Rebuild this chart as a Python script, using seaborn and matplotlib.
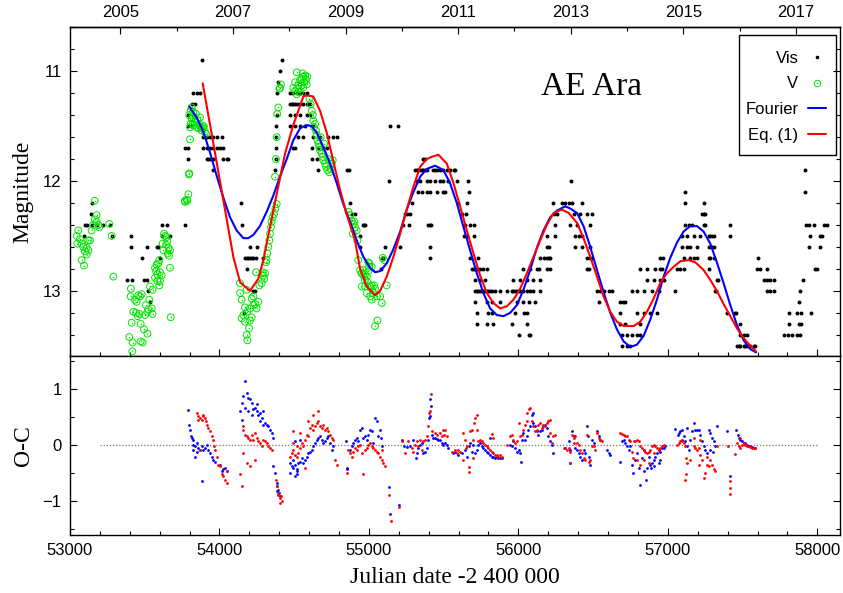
import numpy as np
import matplotlib
matplotlib.use('Agg')
import matplotlib.pyplot as plt
import seaborn as sns
from matplotlib.lines import Line2D
from matplotlib.patches import Rectangle
from matplotlib.ticker import MultipleLocator, FixedLocator, FormatStrFormatter

# visual estimates (JD - 2400000, mag)
vis = np.array([
    (53145, 12.2), (53138, 12.3), (53100, 12.4), (53112, 12.4), (53145, 12.4), (53178, 12.4), (53223, 12.4),
    (53268, 12.4), (53094, 12.5), (53279, 12.5), (53384, 12.9), (53406, 12.5), (53406, 12.6), (53413, 12.9),
    (53480, 12.7), (53495, 12.9), (53513, 12.6), (53513, 12.9), (53524, 13.0), (53535, 13.1), (53580, 12.6),
    (53591, 12.6), (53602, 12.7), (53613, 12.4), (53613, 12.5), (53647, 12.4), (53669, 12.5), (53770, 12.4),
    (53881, 10.9), (53825, 11.2), (53848, 11.2), (53870, 11.2), (53814, 11.3), (53837, 11.3), (53792, 11.4),
    (53825, 11.4), (53792, 11.5), (53808, 11.5), (53870, 11.5), (53892, 11.6), (53915, 11.6), (53937, 11.6),
    (53959, 11.6), (53982, 11.6), (54015, 11.6), (53770, 11.7), (53792, 11.7), (53892, 11.7), (53915, 11.7),
    (53937, 11.7), (53959, 11.7), (53982, 11.7), (54004, 11.7), (54026, 11.7), (53792, 11.8), (53915, 11.8),
    (53926, 11.8), (53937, 11.8), (53959, 11.8), (54026, 11.8), (54048, 11.8), (54060, 11.8), (53959, 11.9),
    (54142, 12.2), (54149, 12.4), (54171, 12.7), (54182, 12.7), (54193, 12.7), (54205, 12.7), (54216, 12.7),
    (54227, 12.7), (54245, 12.7), (54294, 12.7), (54205, 12.6), (54250, 12.6), (54182, 12.8), (54223, 13.0),
    (54238, 13.0), (54164, 13.2),
    (54417, 10.9), (54406, 11.0), (54394, 11.1), (54388, 11.2), (54383, 11.4), (54379, 11.5), (54379, 11.6),
    (54376, 11.7), (54378, 11.8), (54372, 11.9), (54472, 11.2), (54495, 11.2), (54517, 11.2), (54539, 11.2),
    (54562, 11.2), (54584, 11.2), (54472, 11.3), (54484, 11.3), (54495, 11.3), (54506, 11.3), (54517, 11.3),
    (54539, 11.3), (54562, 11.3), (54584, 11.3), (54606, 11.3), (54472, 11.4), (54506, 11.4), (54539, 11.4),
    (54584, 11.4), (54606, 11.4), (54472, 11.5), (54506, 11.5), (54539, 11.5), (54573, 11.5), (54628, 11.5),
    (54528, 11.6), (54562, 11.6), (54628, 11.6), (54673, 11.6), (54729, 11.6), (54762, 11.6), (54785, 11.6),
    (54494, 11.7), (54506, 11.7), (54617, 11.7), (54662, 11.7), (54695, 11.7), (54718, 11.7), (54617, 11.8),
    (54651, 11.8), (54662, 11.9), (54852, 11.9), (54870, 11.9), (54874, 12.2), (54885, 12.3), (54907, 12.3),
    (54963, 12.4), (54974, 12.4), (54968, 12.4), (54941, 12.5), (54941, 12.6), (55108, 12.6), (55086, 12.7),
    (55097, 12.7), (55079, 12.8), (55142, 11.5), (55197, 11.5), (55137, 12.0), (55209, 12.6),
    (55231, 12.4), (55242, 12.3), (55253, 12.3), (55265, 12.4), (55276, 12.3), (55287, 12.2), (55309, 11.9),
    (55320, 11.9), (55331, 11.9), (55343, 11.9), (55354, 11.9), (55365, 11.9), (55376, 11.9), (55387, 11.9),
    (55365, 11.8), (55376, 11.8), (55320, 12.0), (55343, 12.0), (55387, 12.0), (55410, 12.0), (55331, 12.1),
    (55354, 12.1), (55387, 12.1), (55410, 12.1), (55398, 12.4), (55410, 12.4), (55414, 12.4), (55410, 12.6),
    (55410, 12.7), (55432, 11.9), (55443, 11.9), (55454, 11.9), (55476, 11.9), (55499, 11.9), (55521, 11.9),
    (55543, 11.9), (55566, 11.9), (55577, 11.9), (55443, 12.0), (55476, 12.0), (55499, 12.0), (55532, 12.0),
    (55588, 12.0), (55454, 12.1), (55499, 12.1), (55510, 12.1), (55599, 12.2), (55655, 12.2), (55666, 12.0),
    (55673, 12.1), (55621, 12.3), (55650, 12.3), (55644, 12.4), (55677, 12.4), (55700, 12.4), (55633, 12.5),
    (55655, 12.5), (55700, 12.5), (55677, 12.7), (55733, 12.7),
    (55688, 12.8), (55700, 12.8), (55711, 12.8), (55722, 12.8), (55733, 12.8), (55744, 12.8), (55766, 12.8),
    (55789, 12.8), (55711, 12.9), (55744, 12.9), (55778, 12.9), (55711, 13.0), (55722, 13.0), (55733, 13.0),
    (55744, 13.0), (55755, 13.0), (55766, 13.0), (55778, 13.0), (55789, 13.0), (55800, 13.0), (55811, 13.0),
    (55822, 13.0), (55845, 13.0), (55878, 13.0), (55923, 13.0), (55711, 13.1), (55789, 13.1), (55822, 13.1),
    (55878, 13.1), (55722, 13.2), (55800, 13.2), (55822, 13.2), (55722, 13.3), (55789, 13.3), (55829, 13.3),
    (55956, 13.0), (55967, 13.0), (55978, 13.0), (55990, 13.0), (56001, 13.0), (56012, 13.0), (56034, 13.0),
    (56057, 13.0), (56079, 13.0), (56101, 13.0), (56146, 13.0), (55967, 12.9), (56012, 12.9), (56057, 12.9),
    (56101, 12.9), (56146, 12.9), (56030, 12.8), (56079, 12.8), (56124, 12.8), (56135, 12.8), (56190, 12.8),
    (56213, 12.8), (55990, 13.1), (56034, 13.1), (56068, 13.1), (56112, 13.1), (55978, 13.2), (56035, 13.2),
    (56057, 13.2), (55956, 13.3), (56057, 13.3), (56001, 13.4), (56068, 13.4), (56079, 13.4), (56146, 12.7),
    (56169, 12.7), (56191, 12.7), (56202, 12.7), (56213, 12.7), (56190, 12.6), (56208, 12.6),
    (56231, 12.2), (56291, 12.2), (56314, 12.2), (56336, 12.2), (56358, 12.2), (56425, 12.2), (56236, 12.3),
    (56258, 12.3), (56369, 12.3), (56414, 12.3), (56459, 12.3), (56492, 12.3), (56247, 12.4), (56347, 12.4),
    (56392, 12.4), (56481, 12.4), (56191, 12.5), (56247, 12.5), (56381, 12.5), (56403, 12.5), (56425, 12.5),
    (56381, 12.6), (56425, 12.6), (56481, 12.6), (56459, 12.7), (56481, 12.7), (56492, 12.7), (56459, 12.8),
    (56470, 12.8), (56354, 12.0), (56526, 13.0), (56548, 13.0), (56570, 13.0), (56604, 13.0), (56626, 13.0),
    (56537, 13.1), (56682, 13.1), (56700, 13.1), (56715, 13.1),
    (56760, 13.0), (56793, 13.0), (56838, 13.0), (56894, 13.0), (56938, 13.0), (56682, 13.2), (56793, 13.2),
    (56838, 13.2), (56883, 13.2), (56927, 13.2), (56682, 13.3), (56715, 13.3), (56816, 13.3), (56693, 13.4),
    (56726, 13.4), (56760, 13.4), (56793, 13.4), (56816, 13.4), (56693, 13.5), (56726, 13.5), (56749, 13.5),
    (56816, 12.8), (56860, 12.8), (56916, 12.8), (56949, 12.8), (56961, 12.8), (56860, 12.9), (56905, 12.9),
    (56949, 12.9), (56972, 12.9), (56949, 12.7), (56967, 12.7), (57045, 13.0),
    (57117, 12.1), (57117, 12.2), (57239, 12.2), (57228, 12.3), (57239, 12.3), (57250, 12.3), (57117, 12.4),
    (57139, 12.4), (57161, 12.4), (57239, 12.4), (57250, 12.4), (57418, 12.4), (57094, 12.5), (57128, 12.5),
    (57172, 12.5), (57217, 12.5), (57273, 12.5), (57284, 12.5), (57295, 12.5), (57306, 12.5), (57418, 12.5),
    (57094, 12.6), (57128, 12.6), (57150, 12.6), (57195, 12.6), (57273, 12.6), (57295, 12.6), (57306, 12.6),
    (57105, 12.7), (57150, 12.7), (57172, 12.7), (57195, 12.7), (57273, 12.7), (57284, 12.7), (57306, 12.7),
    (57061, 12.8), (57083, 12.8), (57105, 12.8), (57273, 12.8), (57328, 12.9), (57333, 12.9), (57317, 13.0),
    (57324, 13.0), (57395, 13.2), (57451, 13.2), (57458, 13.2), (57485, 13.3), (57485, 13.4), (57507, 13.4),
    (57529, 13.4), (57462, 13.5), (57474, 13.5), (57485, 13.5), (57507, 13.5), (57518, 13.5), (57529, 13.5),
    (57552, 13.5), (57574, 13.5), (57585, 13.5),
    (57601, 12.7), (57596, 12.8), (57619, 12.8), (57663, 12.8), (57641, 12.9), (57663, 12.9), (57686, 12.9),
    (57708, 12.9), (57663, 13.0), (57686, 13.0), (57708, 13.0), (57808, 13.2), (57864, 13.2), (57891, 13.2),
    (57808, 13.3), (57875, 13.3), (57891, 13.3), (57775, 13.4), (57802, 13.4), (57831, 13.4), (57864, 13.4),
    (57886, 13.4), (57875, 13.1), (57882, 13.0), (57904, 12.9), (57960, 13.2), (57987, 12.8), (57998, 12.8),
    (57942, 12.6), (58020, 12.6), (57953, 12.5), (58020, 12.5), (58031, 12.5), (57926, 12.4), (57942, 12.4),
    (57976, 12.4), (58043, 12.4), (58065, 12.4), (57915, 12.1), (57915, 11.9),
])

# V-band photometry (JD - 2400000, mag)
v_band = np.array([
    (53056, 12.45), (53045, 12.50), (53067, 12.53), (53049, 12.57), (53078, 12.57), (53089, 12.60),
    (53112, 12.61), (53100, 12.64), (53123, 12.63), (53112, 12.67), (53078, 12.72), (53094, 12.77),
    (53123, 12.54), (53134, 12.54), (53145, 12.45), (53156, 12.40), (53167, 12.35), (53178, 12.37),
    (53190, 12.40), (53178, 12.31), (53165, 12.18), (53196, 12.42), (53263, 12.39), (53279, 12.50),
    (53290, 12.87),
    (53408, 12.98), (53406, 13.05), (53457, 13.04), (53446, 13.10), (53435, 13.08), (53469, 13.05),
    (53480, 13.03), (53424, 13.19), (53442, 13.20), (53464, 13.21), (53453, 13.23), (53473, 13.30),
    (53413, 13.29), (53397, 13.42), (53419, 13.47), (53417, 13.55), (53495, 13.35), (53473, 13.46),
    (53486, 13.47), (53518, 13.39), (53531, 13.08), (53535, 12.96), (53553, 12.99), (53509, 13.13),
    (53524, 13.17), (53547, 13.16), (53553, 13.21), (53502, 13.22), (53518, 13.19), (53569, 12.79),
    (53580, 12.76), (53591, 12.75), (53598, 12.72), (53576, 12.82), (53585, 12.85), (53602, 12.83),
    (53569, 12.88), (53585, 12.91), (53602, 12.91), (53614, 12.86), (53598, 12.95), (53625, 12.63),
    (53620, 12.57), (53636, 12.50), (53629, 12.48), (53647, 12.51), (53651, 12.55), (53643, 12.58),
    (53660, 12.61), (53669, 12.63), (53654, 12.66), (53663, 12.68), (53669, 12.79), (53674, 13.24),
    (53770, 12.19), (53781, 12.17), (53792, 12.12), (53796, 11.94),
    (53769, 12.18), (53785, 12.18), (53798, 11.93), (53803, 11.62), (53807, 11.48), (53798, 11.40),
    (53807, 11.36), (53814, 11.43), (53825, 11.42), (53821, 11.48), (53830, 11.49), (53836, 11.46),
    (53847, 11.51), (53859, 11.52), (53865, 11.48), (53870, 11.42), (53874, 11.51), (53881, 11.54),
    (53888, 11.52), (53892, 11.51), (53843, 11.39), (53814, 11.33), (53825, 11.37), (53852, 11.45),
    (53803, 11.51), (53903, 11.55), (53910, 11.57), (53896, 11.50),
    (54187, 13.45), (54182, 13.40), (54198, 13.34), (54171, 13.28), (54149, 13.25), (54160, 13.22),
    (54204, 13.27), (54216, 13.24), (54187, 13.19), (54171, 13.15), (54149, 13.08), (54138, 13.02),
    (54138, 12.93), (54182, 12.99), (54204, 13.16), (54227, 13.13), (54238, 13.12), (54216, 13.07),
    (54227, 13.05), (54249, 13.16), (54260, 13.10), (54283, 12.93), (54294, 12.86), (54305, 12.84),
    (54300, 12.89), (54289, 12.83), (54245, 12.83), (54267, 12.95), (54312, 12.74), (54316, 12.72),
    (54320, 12.66), (54327, 12.60), (54334, 12.54), (54338, 12.48), (54345, 12.42), (54349, 12.37),
    (54356, 12.33), (54365, 12.30), (54374, 12.25), (54383, 12.21), (54372, 11.96), (54378, 11.80),
    (54383, 11.60), (54387, 11.39), (54394, 11.33), (54401, 11.16), (54412, 11.12), (54405, 11.15),
    (54517, 11.01), (54506, 11.10), (54528, 11.13), (54539, 11.08), (54550, 11.07), (54561, 11.05),
    (54573, 11.04), (54579, 11.08), (54584, 11.12), (54561, 11.15), (54539, 11.19), (54517, 11.21),
    (54528, 11.16), (54506, 11.18), (54494, 11.15), (54550, 11.13), (54566, 11.10), (54557, 11.02),
    (54588, 11.05), (54602, 11.25), (54610, 11.30), (54617, 11.36), (54624, 11.40), (54628, 11.45),
    (54640, 11.48), (54633, 11.51), (54646, 11.54), (54651, 11.58), (54655, 11.63), (54662, 11.66),
    (54668, 11.69), (54673, 11.72), (54684, 11.75), (54691, 11.78), (54695, 11.81), (54706, 11.84),
    (54713, 11.87), (54722, 11.90), (54735, 11.92), (54744, 11.89), (54751, 11.84), (54758, 11.81),
    (54729, 11.80), (54700, 11.66), (54677, 11.60),
    (54863, 12.28), (54874, 12.31), (54885, 12.36), (54896, 12.39), (54907, 12.42), (54918, 12.45),
    (54892, 12.48), (54903, 12.37), (54923, 12.54), (54929, 12.72), (54941, 12.81), (54952, 12.84),
    (54963, 12.86), (54974, 12.96), (54985, 13.02), (54996, 12.74), (55003, 12.78),
    (54952, 12.84), (54963, 12.81), (54974, 12.85), (54986, 12.87), (54990, 12.92), (55003, 12.75),
    (55019, 12.78), (55008, 12.96), (55019, 12.95), (55035, 12.95), (55041, 12.98), (55030, 13.02),
    (55008, 13.05), (55019, 13.08), (55053, 13.05), (55075, 13.05), (55086, 13.11), (55119, 12.95),
    (55093, 12.70), (55102, 12.72), (55057, 13.27), (55041, 13.32), (54952, 12.96), (54974, 12.90),
    (54997, 12.82),
])

# Fourier fit (JD - 2400000, mag)
fourier = np.array([
    (53798, 11.32), (53847, 11.42), (53892, 11.55), (53937, 11.74), (53981, 11.95), (54026, 12.15),
    (54071, 12.33), (54115, 12.45), (54160, 12.52), (54193, 12.52), (54227, 12.49), (54271, 12.41),
    (54316, 12.28), (54361, 12.13), (54405, 11.96), (54450, 11.80), (54494, 11.63), (54539, 11.52),
    (54584, 11.49), (54617, 11.50), (54651, 11.56), (54695, 11.69), (54740, 11.84), (54785, 12.02),
    (54829, 12.21), (54874, 12.37), (54918, 12.54), (54963, 12.69), (55008, 12.79), (55041, 12.83),
    (55075, 12.82), (55119, 12.75), (55164, 12.62), (55209, 12.46), (55253, 12.26), (55298, 12.10),
    (55343, 11.96), (55387, 11.89), (55443, 11.86), (55499, 11.90), (55543, 12.02), (55588, 12.20),
    (55633, 12.42), (55677, 12.63), (55722, 12.84), (55766, 13.02), (55811, 13.16), (55856, 13.22),
    (55900, 13.23), (55945, 13.20), (55990, 13.13), (56034, 12.99), (56079, 12.81), (56123, 12.61),
    (56168, 12.45), (56213, 12.33), (56257, 12.27), (56314, 12.23), (56347, 12.25), (56392, 12.29),
    (56436, 12.41), (56481, 12.60), (56526, 12.81), (56570, 13.01), (56615, 13.20), (56659, 13.35),
    (56704, 13.46), (56749, 13.51), (56793, 13.49), (56838, 13.41), (56883, 13.26), (56927, 13.08),
    (56972, 12.87), (57016, 12.70), (57061, 12.56), (57105, 12.46), (57150, 12.41), (57195, 12.41),
    (57239, 12.46), (57284, 12.57), (57328, 12.74), (57373, 12.93), (57418, 13.13), (57462, 13.31),
    (57507, 13.45), (57552, 13.53), (57590, 13.56),
])

# Eq. (1) model (JD - 2400000, mag)
eq1 = np.array([
    (53888, 11.11), (54093, 12.69), (54138, 12.92), (54204, 13.00), (54260, 12.89), (54294, 12.72),
    (54338, 12.42), (54383, 12.12), (54439, 11.75), (54494, 11.49), (54528, 11.36), (54561, 11.23),
    (54584, 11.22), (54628, 11.23), (54673, 11.36), (54718, 11.56), (54762, 11.82), (54807, 12.08),
    (54851, 12.30), (54907, 12.54), (54941, 12.80), (54986, 12.96), (55041, 13.04), (55075, 13.00),
    (55119, 12.87), (55164, 12.69), (55209, 12.48), (55253, 12.26), (55298, 12.05), (55343, 11.87),
    (55387, 11.80), (55420, 11.78), (55465, 11.76), (55499, 11.81), (55521, 11.84), (55566, 12.02),
    (55610, 12.23), (55655, 12.45), (55700, 12.66), (55744, 12.86), (55789, 13.02), (55833, 13.11),
    (55878, 13.16), (55923, 13.14), (55967, 13.08), (56012, 12.98), (56057, 12.84), (56101, 12.69),
    (56146, 12.54), (56190, 12.40), (56236, 12.29), (56291, 12.26), (56336, 12.29), (56392, 12.38),
    (56436, 12.52), (56481, 12.69), (56526, 12.87), (56570, 13.05), (56615, 13.19), (56659, 13.28),
    (56704, 13.32), (56771, 13.32), (56816, 13.28), (56860, 13.19), (56905, 13.07), (56949, 12.93),
    (56994, 12.84), (57039, 12.78), (57084, 12.73), (57139, 12.72), (57184, 12.74), (57239, 12.81),
    (57284, 12.90), (57328, 13.00), (57373, 13.12), (57418, 13.23), (57462, 13.34), (57507, 13.43),
    (57552, 13.50), (57590, 13.55),
])

# O-C residuals of the Fourier fit (JD - 2400000, mag)
oc_fourier = np.array([
    (53792, 0.63), (53799, 0.37), (53803, 0.28), (53808, 0.16), (53814, 0.13), (53825, 0.10), (53821, 0.01),
    (53837, -0.02), (53848, 0.04), (53859, -0.05), (53870, -0.08), (53881, -0.02), (53892, -0.08),
    (53903, -0.05), (53915, 0.01), (53926, -0.08), (53937, -0.14), (53948, -0.20), (53959, -0.26),
    (53970, -0.29), (53881, -0.64), (53837, -0.20), (53848, -0.11), (53821, -0.08), (54004, -0.35),
    (54015, -0.46), (54026, -0.43), (54037, -0.40), (54048, -0.46),
    (54138, 0.61), (54149, 0.76), (54156, 0.88), (54171, 1.14), (54182, 0.94), (54193, 0.85), (54205, 0.82),
    (54216, 0.76), (54227, 0.64), (54238, 0.67), (54249, 0.61), (54260, 0.55), (54272, 0.58), (54283, 0.49),
    (54294, 0.61), (54305, 0.40), (54316, 0.37), (54327, 0.34), (54339, 0.28), (54350, 0.22), (54361, 0.13),
    (54149, 0.46), (54171, 0.67), (54193, 0.61), (54216, 0.55), (54272, 0.43), (54294, 0.37), (54249, 0.73),
    (54361, -0.37), (54372, -0.49), (54383, -0.67), (54388, -0.73), (54394, -0.79), (54401, -0.85),
    (54405, -0.91), (54383, -0.82),
    (54472, -0.49), (54484, -0.37), (54495, -0.26), (54506, -0.35), (54517, -0.43), (54522, -0.52),
    (54528, -0.32), (54539, -0.29), (54550, -0.23), (54562, -0.32), (54573, -0.26), (54584, -0.20),
    (54595, -0.14), (54606, -0.11), (54617, -0.08), (54629, -0.02), (54640, 0.04), (54651, 0.10),
    (54662, 0.13), (54673, 0.16), (54684, 0.10), (54695, 0.04), (54707, 0.07), (54718, 0.13), (54729, 0.16),
    (54740, 0.04), (54751, -0.08), (54762, -0.02), (54472, -0.32), (54495, -0.40), (54517, -0.46),
    (54506, -0.55), (54506, 0.07), (54539, 0.10),
    (54847, 0.07), (54852, -0.40), (54856, -0.43), (54874, -0.08), (54885, -0.02), (54896, 0.04),
    (54907, 0.10), (54919, 0.13), (54930, 0.07), (54941, 0.28), (54952, 0.31), (54963, 0.13), (54974, 0.16),
    (54986, 0.10), (54997, 0.19), (55008, 0.28), (55019, 0.25), (55030, 0.04), (55041, 0.49), (55053, 0.43),
    (55064, 0.16), (55075, 0.28), (55079, 0.13), (55086, -0.02), (55137, -0.74), (55142, -1.22),
    (55204, -1.06),
    (55220, 0.10), (55235, -0.02), (55253, -0.03), (55275, -0.01), (55298, 0.10), (55316, -0.23),
    (55325, -0.14), (55331, -0.05), (55342, 0.01), (55354, 0.04), (55365, -0.14), (55376, -0.11),
    (55387, -0.05), (55398, 0.10), (55405, 0.49), (55409, 0.52), (55414, 0.70), (55409, 0.82), (55420, 0.19),
    (55432, 0.13), (55443, 0.13), (55454, 0.11), (55465, 0.10), (55476, 0.10), (55487, 0.04), (55499, 0.01),
    (55510, 0.04), (55521, 0.01), (55532, -0.05),
    (55565, -0.14), (55577, -0.11), (55599, -0.17), (55621, -0.14), (55644, -0.08), (55655, -0.20),
    (55673, -0.02), (55677, 0.04), (55688, -0.11), (55699, 0.01), (55710, -0.14), (55722, -0.08),
    (55733, 0.01), (55744, 0.04), (55755, -0.02), (55766, -0.05), (55777, -0.08), (55789, -0.11),
    (55800, -0.14), (55811, -0.17), (55822, -0.20), (55833, -0.20), (55844, -0.23), (55856, -0.20),
    (55867, -0.23), (55878, -0.23), (55889, -0.23), (55811, 0.13),
    (55945, 0.01), (55956, -0.02), (55967, 0.07), (55978, -0.05), (55989, -0.11), (56001, -0.08),
    (56012, -0.14), (56016, -0.29), (56023, 0.10), (56034, 0.22), (56045, 0.10), (56056, 0.16), (56067, 0.28),
    (56079, 0.34), (56090, 0.55), (56097, 0.58), (56101, 0.40), (56112, 0.34), (56123, 0.25), (56134, 0.19),
    (56146, 0.25), (56157, 0.28), (56168, 0.34), (56179, 0.37), (56190, 0.31), (56201, 0.16), (56212, 0.07),
    (56224, 0.01), (56235, -0.14),
    (56314, -0.05), (56336, 0.07), (56347, -0.08), (56358, 0.25), (56369, 0.16), (56381, -0.05),
    (56392, -0.08), (56403, -0.14), (56414, -0.20), (56425, -0.26), (56436, -0.08), (56448, -0.14),
    (56459, 0.34), (56463, 0.16), (56470, -0.20), (56481, -0.35), (56492, 0.10), (56503, 0.04), (56526, 0.25),
    (56537, 0.16), (56548, 0.10), (56593, -0.08), (56604, -0.14), (56615, -0.17), (56347, -0.32),
    (56682, -0.29), (56693, 0.07), (56704, 0.10), (56715, 0.04), (56726, -0.02), (56738, -0.08),
    (56749, -0.02), (56760, -0.35), (56767, -0.49), (56782, -0.26), (56793, -0.14), (56804, -0.40),
    (56811, -0.70), (56827, -0.23), (56838, -0.46), (56842, -0.08), (56856, -0.61), (56860, -0.40),
    (56871, -0.20), (56883, -0.35), (56894, -0.32), (56905, -0.26), (56916, -0.20), (56927, -0.14),
    (56938, -0.08), (56949, -0.11), (56961, -0.05), (56972, -0.05), (56983, -0.02), (56887, -0.40),
    (56909, -0.37), (56938, -0.32), (56949, -0.26),
    (57050, 0.29), (57065, 0.19), (57072, 0.22), (57083, 0.25), (57094, 0.28), (57106, 0.16), (57117, 0.07),
    (57128, -0.02), (57139, -0.08), (57150, 0.10), (57161, 0.25), (57173, 0.39), (57184, 0.28), (57195, 0.28),
    (57206, 0.28), (57217, 0.19), (57228, 0.07), (57239, -0.02), (57251, -0.08), (57262, -0.14),
    (57273, 0.28), (57284, 0.22), (57295, 0.13), (57306, 0.07), (57318, -0.02), (57329, 0.34),
    (57280, -0.08), (57302, -0.11), (57128, 0.31), (57094, 0.10),
    (57396, 0.25), (57418, -0.54), (57458, 0.28), (57467, 0.19), (57474, 0.13), (57485, 0.10), (57496, 0.07),
    (57507, 0.05), (57518, 0.04), (57530, 0.01), (57541, -0.01), (57552, -0.02), (57563, -0.03),
    (57574, -0.04), (57585, -0.05),
])

# O-C residuals of Eq. (1) (JD - 2400000, mag)
oc_eq1 = np.array([
    (53848, 0.58), (53859, 0.52), (53870, 0.49), (53881, 0.46), (53892, 0.52), (53903, 0.49), (53910, 0.43),
    (53915, 0.37), (53926, 0.31), (53937, 0.25), (53948, 0.16), (53959, 0.10), (53964, -0.02), (53970, -0.08),
    (53982, -0.20), (53993, -0.35), (54004, -0.37), (54015, -0.52), (54026, -0.55), (54037, -0.61),
    (54048, -0.67), (54053, -0.46), (53870, -0.08), (53859, 0.46), (53892, 0.55),
    (54138, -0.52), (54149, -0.73), (54156, 0.34), (54160, 0.28), (54171, 0.19), (54182, 0.16), (54193, 0.13),
    (54205, 0.10), (54216, 0.19), (54227, 0.10), (54238, 0.22), (54249, 0.13), (54260, 0.07), (54272, 0.04),
    (54283, -0.02), (54294, 0.10), (54305, 0.07), (54316, 0.04), (54327, -0.02), (54339, -0.05),
    (54350, -0.08), (54182, -0.32), (54205, -0.37), (54238, -0.26), (54160, -0.14),
    (54379, -0.61), (54388, -0.73), (54394, -0.85), (54405, -0.94), (54417, -1.00), (54410, -0.91),
    (54405, -1.03), (54394, -0.88),
    (54472, -0.20), (54484, -0.14), (54495, -0.08), (54506, -0.17), (54517, -0.02), (54528, -0.14),
    (54539, -0.05), (54550, 0.04), (54562, -0.02), (54573, 0.10), (54584, 0.19), (54595, 0.16), (54606, 0.31),
    (54617, 0.37), (54629, 0.28), (54640, 0.34), (54651, 0.40), (54662, 0.43), (54673, 0.34), (54684, 0.31),
    (54695, 0.37), (54707, 0.28), (54718, 0.31), (54729, 0.25), (54740, 0.19), (54751, 0.13), (54762, 0.10),
    (54662, 0.61), (54629, 0.55), (54595, 0.43), (54495, 0.25), (54539, 0.22), (54773, -0.26),
    (54785, -0.35), (54573, -0.40), (54495, 0.04), (54517, -0.20),
    (54856, -0.49), (54863, -0.08), (54874, -0.14), (54885, -0.20), (54896, -0.11), (54907, -0.05),
    (54919, -0.08), (54930, -0.02), (54941, 0.01), (54952, -0.14), (54963, -0.52), (54974, -0.08),
    (54986, -0.05), (54997, 0.01), (55008, 0.04), (55019, -0.02), (55030, -0.05), (55041, -0.08),
    (55053, -0.11), (55064, -0.14), (55075, -0.20), (55086, -0.26), (55097, -0.32), (55108, -0.37),
    (55086, -0.08), (55137, -0.88), (55146, -1.35), (55204, -1.10),
    (55220, 0.07), (55242, -0.14), (55264, 0.07), (55287, -0.05), (55298, -0.11), (55309, 0.01), (55320, 0.07),
    (55331, -0.02), (55342, 0.10), (55354, -0.08), (55365, 0.07), (55376, 0.10), (55387, 0.16), (55398, 0.34),
    (55405, 0.58), (55409, 0.61), (55414, 0.91), (55420, 0.25), (55443, 0.22), (55454, 0.19), (55476, 0.22),
    (55487, 0.16), (55499, 0.28), (55503, 0.19), (55510, 0.27), (55521, 0.16),
    (55554, -0.11), (55577, -0.08), (55588, -0.14), (55599, -0.08), (55610, -0.11), (55628, 0.22),
    (55644, 0.10), (55650, -0.05), (55659, -0.02), (55668, -0.38), (55673, -0.48), (55677, 0.25),
    (55688, 0.28), (55699, 0.10), (55704, 0.40), (55710, 0.49), (55722, 0.55), (55726, 0.28), (55733, 0.07),
    (55744, 0.10), (55755, 0.07), (55766, 0.04), (55777, 0.01), (55789, -0.02), (55800, -0.05),
    (55811, -0.08), (55822, -0.11), (55833, -0.14), (55844, -0.17), (55856, -0.18), (55867, -0.20),
    (55878, -0.18), (55889, -0.20), (55822, 0.21), (55829, 0.13), (55632, -0.26), (55699, -0.23),
    (55922, 0.01), (55945, 0.16), (55956, 0.19), (55967, 0.10), (55978, 0.04), (55989, 0.07), (56001, 0.40),
    (56012, 0.16), (56023, 0.19), (56034, 0.28), (56045, 0.37), (56056, 0.43), (56061, 0.58), (56074, 0.64),
    (56079, 0.67), (56090, 0.43), (56101, 0.34), (56112, 0.25), (56123, 0.28), (56134, 0.37), (56146, 0.40),
    (56157, 0.31), (56168, 0.37), (56179, 0.34), (56190, 0.40), (56201, 0.43), (56212, 0.46), (56224, 0.04),
    (56235, 0.16), (56246, 0.19), (56212, 0.22),
    (56302, -0.05), (56325, -0.08), (56336, -0.05), (56347, -0.11), (56358, 0.19), (56369, 0.13),
    (56381, 0.16), (56392, 0.04), (56403, 0.01), (56414, -0.08), (56425, -0.14), (56436, -0.23),
    (56448, -0.26), (56459, 0.19), (56470, -0.29), (56481, -0.26), (56492, -0.02), (56503, -0.02),
    (56514, -0.08), (56526, 0.22), (56537, 0.13), (56548, 0.10), (56559, 0.07), (56347, -0.32), (56369, 0.04),
    (56682, 0.22), (56693, 0.21), (56704, 0.19), (56715, 0.17), (56726, 0.16), (56738, 0.10), (56749, 0.07),
    (56760, -0.12), (56771, 0.07), (56782, 0.07), (56793, 0.10), (56804, 0.07), (56816, -0.02),
    (56827, -0.05), (56838, -0.08), (56849, -0.11), (56860, -0.14), (56871, -0.11), (56883, -0.08),
    (56894, -0.02), (56905, 0.01), (56916, -0.02), (56927, -0.05), (56938, -0.08), (56949, -0.05),
    (56961, -0.02), (56972, 0.01), (56767, -0.23), (56793, -0.26), (56816, -0.35), (56838, -0.26),
    (56871, -0.32), (56905, -0.14),
    (57061, 0.01), (57072, 0.04), (57083, 0.07), (57094, 0.07), (57106, 0.04), (57117, -0.02), (57124, -0.23),
    (57128, -0.32), (57117, -0.61), (57150, -0.26), (57173, -0.02), (57184, -0.05), (57195, -0.08),
    (57206, -0.05), (57217, -0.17), (57228, -0.26), (57239, -0.58), (57251, -0.49), (57262, -0.35),
    (57273, -0.37), (57284, -0.26), (57295, -0.35), (57306, -0.43), (57318, -0.46), (57262, -0.20),
    (57206, -0.35), (57124, -0.52), (57329, -0.02), (57173, 0.13), (57217, 0.10),
    (57400, -0.02), (57418, -0.64), (57418, -0.76), (57418, -0.86), (57451, -0.15), (57463, 0.04),
    (57474, -0.02), (57485, -0.05), (57496, 0.01), (57507, 0.04), (57518, 0.01), (57530, -0.01),
    (57541, -0.02), (57552, -0.03), (57563, -0.04), (57574, -0.04), (57585, -0.05), (57485, 0.13),
])

zero_line_jd = [53200, 58000]
years_major = [2005, 2007, 2009, 2011, 2013, 2015, 2017]
years_minor = [2006, 2008, 2010, 2012, 2014, 2016]
jd_2005 = 53336.7      # where the 2005 tick sits on the JD axis
days_per_year = 376.7  # spacing of the year ticks

GREEN = '#00e600'
SERIF = ['Liberation Serif', 'DejaVu Serif']

sns.set_style('ticks')
plt.rcParams['font.family'] = ['Liberation Sans', 'DejaVu Sans']
plt.rcParams.update({
    'axes.edgecolor': 'black', 'axes.linewidth': 1.0, 'text.color': 'black',
    'axes.labelcolor': 'black', 'xtick.color': 'black', 'ytick.color': 'black',
})

fig = plt.figure(figsize=(8.43, 5.93), dpi=100)
ax1 = fig.add_axes([0.0830, 0.4002, 0.9140, 0.5538])
ax2 = fig.add_axes([0.0830, 0.0978, 0.9140, 0.3024])

# Light curve panel
sns.scatterplot(x=vis[:, 0], y=vis[:, 1], ax=ax1, color='black', s=8, linewidth=0, zorder=2)
sns.scatterplot(x=v_band[:, 0], y=v_band[:, 1], ax=ax1, s=24, facecolor='none', edgecolor=GREEN,
                linewidth=0.7, zorder=3)
sns.scatterplot(x=v_band[:, 0], y=v_band[:, 1], ax=ax1, color=GREEN, s=1.2, linewidth=0, zorder=3)
sns.lineplot(x=fourier[:, 0], y=fourier[:, 1], ax=ax1, color='blue', lw=1.5, zorder=4,
             estimator=None, sort=False)
sns.lineplot(x=eq1[:, 0], y=eq1[:, 1], ax=ax1, color='red', lw=1.5, zorder=5,
             estimator=None, sort=False)

ax1.set_xlim(53000, 58155)
ax1.set_ylim(13.59, 10.60)
ax1.xaxis.set_major_locator(MultipleLocator(1000))
ax1.xaxis.set_minor_locator(MultipleLocator(200))
ax1.yaxis.set_major_locator(FixedLocator([11, 12, 13]))
ax1.yaxis.set_minor_locator(MultipleLocator(0.2))
ax1.tick_params(axis='x', which='both', top=False, bottom=True, labelbottom=False)
ax1.tick_params(axis='y', which='both', left=True, right=True)
ax1.set_xlabel('')
ax1.set_ylabel('Magnitude', fontsize=17, family=SERIF)
ax1.yaxis.set_label_coords(-0.047, 0.5)
ax1.text(0.6775, 0.794, 'AE Ara', transform=ax1.transAxes, ha='center', va='baseline',
         fontsize=24, family=SERIF)


def jd2yr(jd):
    return 2005 + (np.asarray(jd) - jd_2005) / days_per_year


def yr2jd(yr):
    return jd_2005 + (np.asarray(yr) - 2005) * days_per_year


sec = ax1.secondary_xaxis('top', functions=(jd2yr, yr2jd))
sec.xaxis.set_major_locator(FixedLocator(years_major))
sec.xaxis.set_minor_locator(FixedLocator(years_minor))
sec.xaxis.set_major_formatter(FormatStrFormatter('%d'))
sec.tick_params(which='both', direction='in', labelsize=12, width=0.8, pad=5)
sec.tick_params(which='major', length=5)
sec.tick_params(which='minor', length=3.2)

# key: entries without frame, box drawn separately (gnuplot style)
handles = [
    Line2D([], [], ls='none', marker='o', ms=2.6, mew=0, color='black'),
    (Line2D([], [], ls='none', marker='o', ms=4.6, mfc='none', mec=GREEN, mew=0.7),
     Line2D([], [], ls='none', marker='o', ms=1.0, mew=0, color=GREEN)),
    Line2D([], [], color='blue', lw=1.5),
    Line2D([], [], color='red', lw=1.5),
]
ax1.legend(handles, ['Vis', 'V', 'Fourier', 'Eq. (1)'], loc='upper right',
           bbox_to_anchor=(0.9812, 0.9284), borderaxespad=0, markerfirst=False,
           frameon=False, fontsize=12, handlelength=1.1, handletextpad=0.55,
           labelspacing=0.64, borderpad=0)
ax1.add_patch(Rectangle((0.8683, 0.6111), 0.9942 - 0.8683, 0.9766 - 0.6111, transform=ax1.transAxes,
                        fill=False, edgecolor='black', lw=1.0, zorder=6))

# O-C panel
sns.lineplot(x=zero_line_jd, y=[0, 0], ax=ax2, color='#777777', lw=0.9, linestyle=(0, (1, 1.5)),
             zorder=1)
sns.scatterplot(x=oc_fourier[:, 0], y=oc_fourier[:, 1], ax=ax2, color='blue', s=4, linewidth=0, zorder=2)
sns.scatterplot(x=oc_eq1[:, 0], y=oc_eq1[:, 1], ax=ax2, color='red', s=4, linewidth=0, zorder=3)

ax2.set_xlim(53000, 58155)
ax2.set_ylim(-1.6, 1.6)
ax2.xaxis.set_major_locator(MultipleLocator(1000))
ax2.xaxis.set_minor_locator(MultipleLocator(200))
ax2.yaxis.set_major_locator(FixedLocator([-1, 0, 1]))
ax2.yaxis.set_minor_locator(MultipleLocator(0.5))
ax2.tick_params(axis='x', which='both', top=False, bottom=True)
ax2.tick_params(axis='y', which='both', left=True, right=True)
ax2.set_ylabel('O-C', fontsize=17, family=SERIF)
ax2.yaxis.set_label_coords(-0.047, 0.5)
ax2.set_xlabel('Julian date -2 400 000', fontsize=17, family=SERIF)
ax2.xaxis.set_label_coords(0.5, -0.178)

for ax in (ax1, ax2):
    ax.tick_params(which='both', direction='in', labelsize=12, width=0.8, pad=6)
    ax.tick_params(which='major', length=5)
    ax.tick_params(which='minor', length=3.2)

fig.savefig('out.png', dpi=100)
